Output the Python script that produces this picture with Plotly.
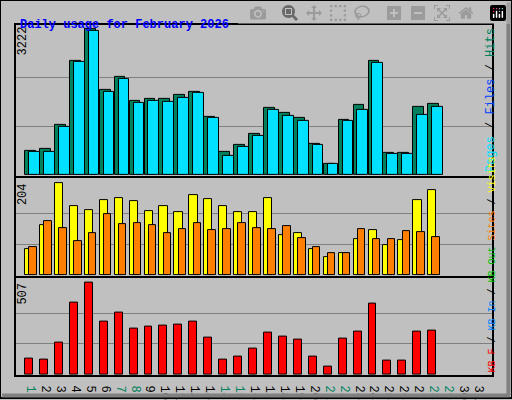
import plotly.graph_objects as go
from plotly.subplots import make_subplots

days = list(range(1, 32))
weekend = [1, 7, 8, 14, 15, 21, 22, 28, 29]

# days 29-31 have no data yet
hits = [526, 570, 1118, 2521, 3222, 1885, 2170, 1644, 1688, 1688, 1776, 1841, 1293, 504,
        658, 921, 1491, 1381, 1271, 680, 241, 1228, 1556, 2521, 482, 482, 1512, 1578, None, None, None]
files = [504, 504, 1074, 2499, 3178, 1841, 2126, 1600, 1644, 1622, 1710, 1819, 1271, 416,
         614, 877, 1447, 1315, 1206, 658, 241, 1206, 1447, 2477, 460, 460, 1337, 1512, None, None, None]
visits = [58, 111, 204, 153, 144, 166, 171, 164, 142, 153, 140, 177, 169, 153, 140, 140,
          171, 89, 93, 58, 40, 47, 80, 100, 67, 78, 166, 188, None, None, None]
sites = [62, 120, 104, 75, 93, 135, 113, 115, 111, 93, 102, 115, 100, 102, 115, 104,
         102, 109, 82, 62, 47, 49, 102, 80, 80, 98, 95, 84, None, None, None]
kbytes = [88, 83, 176, 397, 507, 292, 342, 253, 265, 270, 276, 292, 204, 83, 99, 143,
          231, 209, 193, 99, 44, 198, 237, 391, 77, 77, 237, 242, None, None, None]

max_hits, max_visits, max_kb = 3222, 204, 507
mono = "Liberation Mono"

fig = make_subplots(rows=3, cols=1)

def bars(vals, color, width, offset, row):
    fig.add_trace(go.Bar(x=days, y=vals, width=width, offset=offset,
                         marker=dict(color=color, line=dict(color="black", width=1))),
                  row=row, col=1)

bars(hits, "#00805c", 0.72, -0.53, 1)
bars(files, "#00e0ff", 0.72, -0.27, 1)
bars(visits, "#ffff00", 0.55, -0.53, 2)
bars(sites, "#ff8000", 0.5, -0.25, 2)
bars(kbytes, "#ff0000", 0.53, -0.53, 3)

ticktext = [f"<span style='color:{'#00805c' if d in weekend else 'black'}'>{d}</span>" for d in days]

domains = [[0.5575, 0.9375], [0.3075, 0.5525], [0.0575, 0.3025]]
ranges = [[-20, 3310], [-2, 215], [-5, 535]]
maxes = [max_hits, max_visits, max_kb]
for i in range(3):
    xa = dict(range=[-0.14, 31.74], domain=[16 / 512, 492 / 512], showgrid=False,
              zeroline=False, showline=True, linecolor="black", mirror=True, linewidth=2,
              ticks="", showticklabels=(i == 2))
    if i == 2:
        xa.update(tickvals=days, ticktext=ticktext, tickfont=dict(family=mono, size=12, color="black"))
    fig.update_xaxes(**xa, row=i + 1, col=1)
    fig.update_yaxes(range=ranges[i], domain=domains[i], tickvals=[maxes[i] / 3, maxes[i] * 2 / 3],
                     showticklabels=False, gridcolor="#808080", gridwidth=1, zeroline=False,
                     showline=True, linecolor="black", mirror=True, linewidth=2, row=i + 1, col=1)

ann = [
    dict(x=18 / 512, y=1 - 16 / 400, text="<b>Daily usage for February 2026</b>", xanchor="left",
         font=dict(color="#0000ff", size=12)),
    dict(x=14 / 512, y=1 - 25 / 400, text="3222", textangle=-90, yanchor="top"),
    dict(x=14 / 512, y=1 - 182 / 400, text="204", textangle=-90, yanchor="top"),
    dict(x=14 / 512, y=1 - 282 / 400, text="507", textangle=-90, yanchor="top"),
    dict(x=500 / 512, y=1 - 175 / 400, textangle=-90, yanchor="bottom",
         text="<span style='color:#00e0ff'>Pages</span> / <span style='color:#0040ff'>Files</span>"
              " / <span style='color:#00805c'>Hits</span>"),
    dict(x=500 / 512, y=1 - 377 / 400, textangle=-90, yanchor="bottom",
         font=dict(color="black", size=10),
         text="<span style='color:#ff0000'>KB F</span> / <span style='color:#0080ff'>KB In</span>"
              " / <span style='color:#00c000'>KB Out</span> <span style='color:#ff8000'>Sites</span>"
              " / <span style='color:#ffff00'>Visits</span>"),
]
for a in ann:
    a.setdefault("font", dict(color="black", size=12))
    a["font"]["family"] = mono
    fig.add_annotation(xref="paper", yref="paper", showarrow=False, **a)

fig.update_layout(
    width=512, height=400, margin=dict(l=0, r=0, t=0, b=0),
    paper_bgcolor="#c0c0c0", plot_bgcolor="#c0c0c0", showlegend=False,
    barmode="overlay", bargap=0,
    shapes=[dict(type="rect", xref="paper", yref="paper", x0=0, y0=0, x1=1, y1=1,
                 line=dict(color="black", width=2)),
            dict(type="line", xref="paper", yref="paper", x0=0.004, y0=0.006, x1=0.996, y1=0.006,
                 line=dict(color="#808080", width=4)),
            dict(type="line", xref="paper", yref="paper", x0=0.993, y0=0.006, x1=0.993, y1=0.994,
                 line=dict(color="#808080", width=4))],
)

fig.write_html("out.html", post_script="document.body.style.margin='0';")
